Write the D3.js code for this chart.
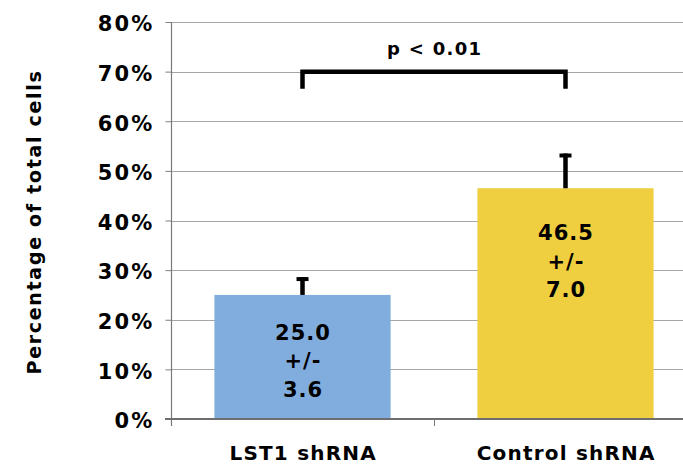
<!DOCTYPE html>
<html>
<head>
<meta charset="utf-8">
<script src="https://cdn.jsdelivr.net/npm/d3@7"></script>
<style>
  html, body { margin: 0; padding: 0; background: #fff; }
  svg { display: block; font-family: "DejaVu Sans", Verdana, sans-serif; font-weight: bold; }
</style>
</head>
<body>
<svg id="chart" width="683" height="464"></svg>
<script>
// Data
const categories = ["LST1 shRNA", "Control shRNA"];
const values = [25.0, 46.5];
const errors = [3.6, 7.0];
const barColors = ["#80ADDD", "#EFCF3F"];
const yTicks = [0, 10, 20, 30, 40, 50, 60, 70, 80];
const significance = "p < 0.01";
const bracketLevel = 70;

const svg = d3.select("#chart");
const W = 683, H = 464;
const margin = { left: 171, top: 22, bottom: 45 };
const plotRight = 697; // plot area runs past the right edge

const x = d3.scaleBand()
  .domain(categories)
  .range([margin.left, plotRight])
  .paddingInner(0.33)
  .paddingOuter(0.165);

const y = d3.scaleLinear()
  .domain([0, 80])
  .range([419, margin.top]);

// Gridlines
svg.append("g")
  .selectAll("line")
  .data(yTicks.filter(d => d > 0))
  .join("line")
  .attr("x1", margin.left).attr("x2", W)
  .attr("y1", d => Math.round(y(d)) + 0.5).attr("y2", d => Math.round(y(d)) + 0.5)
  .attr("stroke", "#a6a6a6").attr("stroke-width", 1);

// Bars
svg.append("g")
  .selectAll("rect")
  .data(categories)
  .join("rect")
  .attr("x", d => x(d))
  .attr("width", x.bandwidth())
  .attr("y", (d, i) => y(values[i]))
  .attr("height", (d, i) => y(0) - y(values[i]))
  .attr("fill", (d, i) => barColors[i]);

// Error bars (upper only)
const eb = svg.append("g");
categories.forEach((c, i) => {
  const cx = x(c) + x.bandwidth() / 2;
  eb.append("line")
    .attr("x1", cx).attr("x2", cx)
    .attr("y1", y(values[i])).attr("y2", y(values[i] + errors[i]))
    .attr("stroke", "#000").attr("stroke-width", 4.5);
  eb.append("line")
    .attr("x1", cx - 6).attr("x2", cx + 6)
    .attr("y1", y(values[i] + errors[i]) + 2).attr("y2", y(values[i] + errors[i]) + 2)
    .attr("stroke", "#000").attr("stroke-width", 4);
});

// Y axis
const yAxis = d3.axisLeft(y)
  .tickValues(yTicks)
  .tickSize(6)
  .tickPadding(11)
  .tickFormat(d => d + "%");
const gy = svg.append("g")
  .attr("transform", `translate(${margin.left + 0.5},0)`)
  .call(yAxis);
gy.select(".domain").remove();
gy.selectAll(".tick line").attr("stroke", "#7f7f7f");
gy.selectAll(".tick text")
  .attr("fill", "#000")
  .attr("dy", "0.42em")
  .style("font-size", "21px")
  .style("font-family", "'DejaVu Sans', Verdana, sans-serif")
  .style("font-weight", "bold")
  .attr("letter-spacing", "2.2px");

// Axis lines
svg.append("line")
  .attr("x1", margin.left + 0.5).attr("x2", margin.left + 0.5)
  .attr("y1", y(80)).attr("y2", y(0) + 7)
  .attr("stroke", "#7a7a7a").attr("stroke-width", 1.2);
svg.append("line")
  .attr("x1", margin.left - 6).attr("x2", W)
  .attr("y1", y(0)).attr("y2", y(0))
  .attr("stroke", "#6e6e6e").attr("stroke-width", 2);

// X axis category dividers and labels
const dividers = categories.map((c, i) => margin.left + (i + 1) * (plotRight - margin.left) / categories.length);
svg.append("g")
  .selectAll("line")
  .data(dividers.filter(d => d < W))
  .join("line")
  .attr("x1", d => d + 0.5).attr("x2", d => d + 0.5)
  .attr("y1", y(0)).attr("y2", y(0) + 7)
  .attr("stroke", "#7a7a7a");

svg.append("g")
  .selectAll("text")
  .data(categories)
  .join("text")
  .attr("x", d => x(d) + x.bandwidth() / 2 + 0.7)
  .attr("y", 460)
  .attr("text-anchor", "middle")
  .attr("letter-spacing", "1.2px")
  .style("font-size", "20px")
  .text(d => d);

// Axis title
svg.append("text")
  .attr("transform", `translate(41,222) rotate(-90)`)
  .attr("text-anchor", "middle")
  .attr("letter-spacing", "1.7px")
  .style("font-size", "19px")
  .text("Percentage of total cells");

// Value labels inside bars
const labelTop = [37, 44]; // distance of first line centre below the bar top
categories.forEach((c, i) => {
  const cx = x(c) + x.bandwidth() / 2 + 0.5;
  const lines = [values[i].toFixed(1), "+/-", errors[i].toFixed(1)];
  const t = svg.append("text")
    .attr("text-anchor", "middle")
    .attr("letter-spacing", "1px")
    .style("font-size", "21px");
  lines.forEach((s, k) => {
    t.append("tspan")
      .attr("x", cx)
      .attr("y", y(values[i]) + labelTop[i] + k * 28.5 + 8)
      .text(s);
  });
});

// Significance bracket
const bx1 = x(categories[0]) + x.bandwidth() / 2;
const bx2 = x(categories[1]) + x.bandwidth() / 2;
const by = y(bracketLevel);
svg.append("path")
  .attr("d", `M${bx1},${by + 17}V${by}H${bx2}V${by + 17}`)
  .attr("fill", "none")
  .attr("stroke", "#000")
  .attr("stroke-width", 4.5);
svg.append("text")
  .attr("x", (bx1 + bx2) / 2 + 0.7)
  .attr("y", 55)
  .attr("text-anchor", "middle")
  .attr("letter-spacing", "1.3px")
  .style("font-size", "18px")
  .text(significance);
</script>
</body>
</html>
